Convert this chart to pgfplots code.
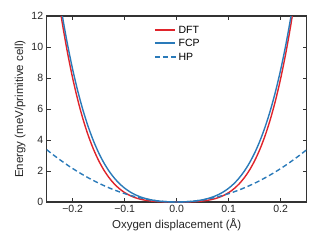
\documentclass[border=0pt]{standalone}
\usepackage{fontspec}
\setmainfont{Liberation Sans}
\usepackage{pgfplots}
\pgfplotsset{compat=1.18}
\definecolor{dftred}{HTML}{E0242B}
\definecolor{fcpblue}{HTML}{2A7AB9}
\definecolor{frame}{HTML}{333333}
\begin{document}
\begin{tikzpicture}
\path[use as bounding box] (-46.7pt,-48pt) rectangle (273.3pt,202pt);
\begin{axis}[
  at={(0,0)}, anchor=south west,
  scale only axis, width=260pt, height=186pt,
  xmin=-0.25, xmax=0.25, ymin=0, ymax=12,
  xtick={-0.2,-0.1,0,0.1,0.2},
  xticklabels={−0.2,−0.1,0.0,0.1,0.2},
  ytick={0,2,4,6,8,10,12},
  yticklabels={0,2,4,6,8,10,12},
  tick pos=both, tick align=inside,
  major tick length=4pt,
  axis line style={frame, line width=1.3pt},
  every tick/.style={frame, line width=0.8pt},
  tick label style={font=\fontsize{10.5}{12}\selectfont, text=black!85},
  label style={font=\fontsize{11.5}{13}\selectfont, text=black!85},
  xlabel={Oxygen displacement (Å)},
  ylabel={Energy (meV/primitive cell)},
  xlabel style={yshift=1pt},
  ylabel style={yshift=-1pt},
  legend style={at={(0.40,0.97)}, anchor=north west, draw=none, fill=none,
    font=\fontsize{10.5}{12}\selectfont, row sep=0.8pt},
  legend cell align=left,
  clip=true,
]
\addplot[dftred, line width=1.4pt, smooth,
  legend image code/.code={\draw[dftred,line width=1.8pt] (0pt,0.5pt) -- (20pt,0.5pt);}] coordinates {
(-0.24,16.1840) (-0.23,13.7128) (-0.22,11.5383) (-0.21,9.6356) (-0.20,7.9808)
(-0.19,6.5511) (-0.18,5.3249) (-0.17,4.2815) (-0.16,3.4017) (-0.15,2.6669)
(-0.14,2.0601) (-0.13,1.5652) (-0.12,1.1670) (-0.11,0.8518) (-0.10,0.6068)
(-0.09,0.4203) (-0.08,0.2817) (-0.07,0.1817) (-0.06,0.1118) (-0.05,0.0649)
(-0.04,0.0349) (-0.03,0.0167) (-0.02,0.0065) (-0.01,0.0015) (0,0)
(0.01,0.0015) (0.02,0.0065) (0.03,0.0167) (0.04,0.0349) (0.05,0.0649)
(0.06,0.1118) (0.07,0.1817) (0.08,0.2817) (0.09,0.4203) (0.10,0.6068)
(0.11,0.8518) (0.12,1.1670) (0.13,1.5652) (0.14,2.0601) (0.15,2.6669)
(0.16,3.4017) (0.17,4.2815) (0.18,5.3249) (0.19,6.5511) (0.20,7.9808)
(0.21,9.6356) (0.22,11.5383) (0.23,13.7128) (0.24,16.1840)
};
\addlegendentry{DFT}
\addplot[fcpblue, line width=1.4pt, smooth,
  legend image code/.code={\draw[fcpblue,line width=1.8pt] (0pt,0.5pt) -- (20pt,0.5pt);}] coordinates {
(-0.23,14.1346) (-0.22,12.0277) (-0.21,10.1716) (-0.20,8.5448) (-0.19,7.1270)
(-0.18,5.8987) (-0.17,4.8414) (-0.16,3.9377) (-0.15,3.1712) (-0.14,2.5264)
(-0.13,1.9889) (-0.12,1.5452) (-0.11,1.1828) (-0.10,0.8903) (-0.09,0.6572)
(-0.08,0.4741) (-0.07,0.3325) (-0.06,0.2248) (-0.05,0.1447) (-0.04,0.0866)
(-0.03,0.0461) (-0.02,0.0197) (-0.01,0.0048) (0,0)
(0.01,0.0048) (0.02,0.0197) (0.03,0.0461) (0.04,0.0866) (0.05,0.1447)
(0.06,0.2248) (0.07,0.3325) (0.08,0.4741) (0.09,0.6572) (0.10,0.8903)
(0.11,1.1828) (0.12,1.5452) (0.13,1.9889) (0.14,2.5264) (0.15,3.1712)
(0.16,3.9377) (0.17,4.8414) (0.18,5.8987) (0.19,7.1270) (0.20,8.5448)
(0.21,10.1716) (0.22,12.0277) (0.23,14.1346)
};
\addlegendentry{FCP}
\addplot[fcpblue, line width=1.4pt, smooth, dash pattern=on 5pt off 3pt,
  legend image code/.code={\draw[fcpblue,line width=1.6pt,dash pattern=on 5pt off 3pt] (0pt,0.5pt) -- (21pt,0.5pt);}] coordinates {
(-0.25,3.375) (-0.24,3.1104) (-0.23,2.8566) (-0.22,2.6136) (-0.21,2.3814)
(-0.20,2.16) (-0.19,1.9494) (-0.18,1.7496) (-0.17,1.5606) (-0.16,1.3824)
(-0.15,1.215) (-0.14,1.0584) (-0.13,0.9126) (-0.12,0.7776) (-0.11,0.6534)
(-0.10,0.54) (-0.09,0.4374) (-0.08,0.3456) (-0.07,0.2646) (-0.06,0.1944)
(-0.05,0.135) (-0.04,0.0864) (-0.03,0.0486) (-0.02,0.0216) (-0.01,0.0054) (0,0)
(0.01,0.0054) (0.02,0.0216) (0.03,0.0486) (0.04,0.0864) (0.05,0.135)
(0.06,0.1944) (0.07,0.2646) (0.08,0.3456) (0.09,0.4374) (0.10,0.54)
(0.11,0.6534) (0.12,0.7776) (0.13,0.9126) (0.14,1.0584) (0.15,1.215)
(0.16,1.3824) (0.17,1.5606) (0.18,1.7496) (0.19,1.9494) (0.20,2.16)
(0.21,2.3814) (0.22,2.6136) (0.23,2.8566) (0.24,3.1104) (0.25,3.375)
};
\addlegendentry{HP}
\end{axis}
\end{tikzpicture}
\end{document}
